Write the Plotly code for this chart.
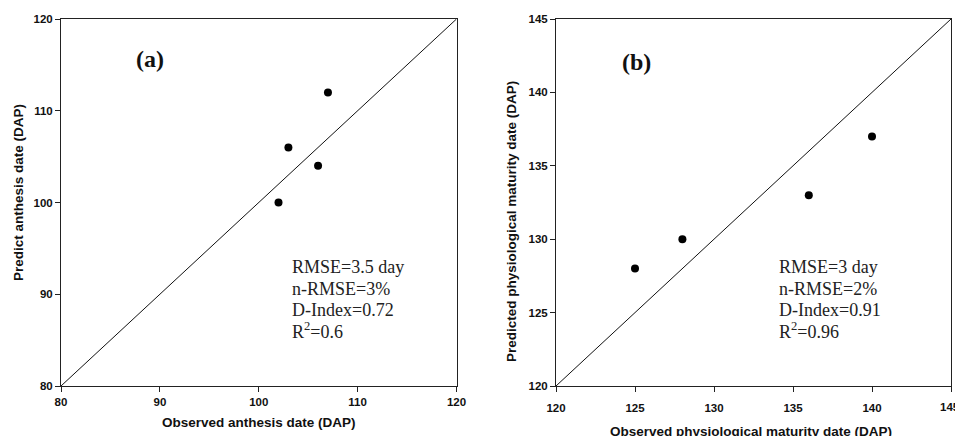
import plotly.graph_objects as go

# Panel (a): anthesis date
obs_a = [102, 103, 106, 107]
pred_a = [100, 106, 104, 112]
range_a = [80, 120]
ticks_a = [80, 90, 100, 110, 120]
stats_a = ["RMSE=3.5 day", "n-RMSE=3%", "D-Index=0.72", "R<sup>2</sup>=0.6"]

# Panel (b): physiological maturity date
obs_b = [125, 128, 136, 140]
pred_b = [128, 130, 133, 137]
range_b = [120, 145]
ticks_b = [120, 125, 130, 135, 140, 145]
stats_b = ["RMSE=3 day", "n-RMSE=2%", "D-Index=0.91", "R<sup>2</sup>=0.96"]

OFF = 8  # default page body margin
W, H = 963 - OFF, 436 - OFF
L, R, T, B = 53, 4, 11, 42
PW, PH = W - L - R, H - T - B

fig = go.Figure()

# 1:1 lines
fig.add_trace(go.Scatter(x=range_a, y=range_a, mode="lines",
                         line=dict(color="#111", width=1), xaxis="x", yaxis="y",
                         showlegend=False, hoverinfo="skip"))
fig.add_trace(go.Scatter(x=range_b, y=range_b, mode="lines",
                         line=dict(color="#111", width=1), xaxis="x2", yaxis="y2",
                         showlegend=False, hoverinfo="skip"))
# points
fig.add_trace(go.Scatter(x=obs_a, y=pred_a, mode="markers",
                         marker=dict(color="black", size=8), xaxis="x", yaxis="y",
                         showlegend=False))
fig.add_trace(go.Scatter(x=obs_b, y=pred_b, mode="markers",
                         marker=dict(color="black", size=8), xaxis="x2", yaxis="y2",
                         showlegend=False))


def px(x):
    return (x - OFF - L) / PW


def py(y):
    return 1 - (y - OFF - T) / PH


tickfont = dict(family="Liberation Sans, Arial", size=11.5, color="#111")
axis_common = dict(showline=True, linecolor="#222", linewidth=1, mirror=True,
                   ticks="outside", ticklen=5, tickcolor="#222", showgrid=False,
                   zeroline=False, tickfont=tickfont, fixedrange=True,
                   automargin=False)


def bold(vals):
    return ["<b>%d</b>" % v for v in vals]


ticktext_b = bold(ticks_b)
ticktext_b[-1] = ""  # last label drawn as annotation so it is not clipped

ydom = [py(386), py(19)]
fig.update_layout(
    width=W, height=H,
    margin=dict(l=L, r=R, t=T, b=B, autoexpand=False),
    paper_bgcolor="white", plot_bgcolor="white",
    xaxis=dict(domain=[px(61), px(456.5)], range=range_a, tickvals=ticks_a,
               ticktext=bold(ticks_a), anchor="y", **axis_common),
    yaxis=dict(domain=ydom, range=range_a, tickvals=ticks_a, ticktext=bold(ticks_a),
               anchor="x", **axis_common),
    xaxis2=dict(domain=[px(556), px(951)], range=range_b, tickvals=ticks_b,
                ticktext=ticktext_b, anchor="y2", ticklabelstandoff=6,
                **axis_common),
    yaxis2=dict(domain=ydom, range=range_b, tickvals=ticks_b, ticktext=bold(ticks_b),
                anchor="x2", **axis_common),
)

titlefont = dict(family="Liberation Sans, Arial", size=13.5, color="#111")
ann = []


def add(text, x, y, font, **kw):
    d = dict(text=text, x=px(x), y=py(y), xref="paper", yref="paper",
             showarrow=False, font=font, xanchor=kw.pop("xanchor", "center"),
             yanchor="middle")
    d.update(kw)
    ann.append(d)


# last x tick label of panel (b)
add("<b>%d</b>" % ticks_b[-1], 962, 407, tickfont, xanchor="right")
# axis titles
add("<b>Observed anthesis date (DAP)</b>", 259, 423, titlefont)
add("<b>Predict anthesis date (DAP)</b>", 18, 193, titlefont, textangle=-90)
add("<b>Observed physiological maturity date (DAP)</b>", 751, 431, titlefont)
add("<b>Predicted physiological maturity date (DAP)</b>", 512, 221, titlefont,
    textangle=-90)
# panel labels
labfont = dict(family="Liberation Serif, Times New Roman", size=24, color="#111")
add("<b>(a)</b>", 134, 59, labfont, xanchor="left")
add("<b>(b)</b>", 620, 62, labfont, xanchor="left")
# stats
statfont = dict(family="Liberation Serif, Times New Roman", size=18, color="#222")
line_y = [267, 288.5, 310, 330.5]
for s, yy in zip(stats_a, line_y):
    add(s, 290, yy, statfont, xanchor="left")
for s, yy in zip(stats_b, line_y):
    add(s, 777, yy, statfont, xanchor="left")
fig.update_layout(annotations=ann)

fig.write_html("out.html")
